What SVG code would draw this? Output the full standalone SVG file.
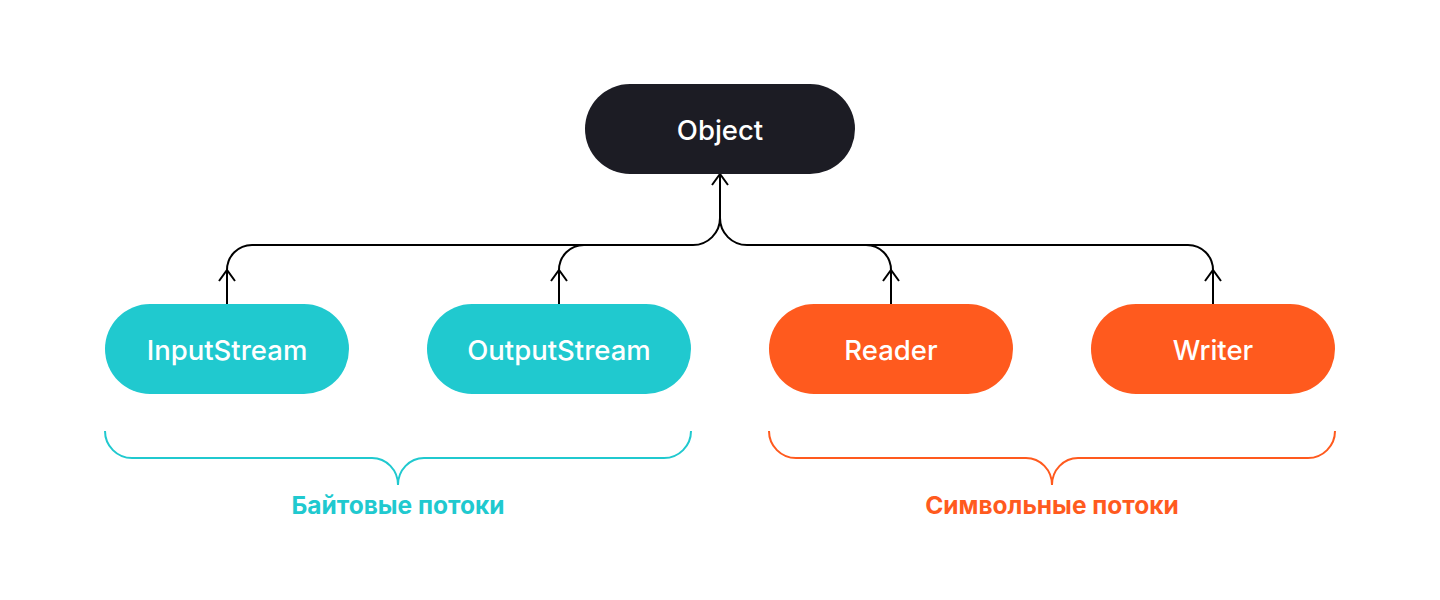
<svg xmlns="http://www.w3.org/2000/svg" width="1440" height="600" viewBox="0 0 1440 600">
<defs>
<style>
.node-text{font-family:Inter,"Liberation Sans",sans-serif;font-size:27.5px;font-weight:500;fill:#ffffff;text-anchor:middle;dominant-baseline:central}
.conn{fill:none;stroke:#000000;stroke-width:2}
.brace{fill:none;stroke-width:2}
.label{font-family:Inter,"Liberation Sans",sans-serif;font-size:24.5px;font-weight:700;text-anchor:middle}
</style>
<marker id="arr" viewBox="0 0 20 20" refX="18" refY="10" markerWidth="20" markerHeight="20" markerUnits="userSpaceOnUse" orient="auto">
<path d="M7,2 L18,10 L7,18" fill="none" stroke="#000" stroke-width="2"/>
</marker>
</defs>
<rect width="1440" height="600" fill="#ffffff"/>
<g id="connectors">
<path class="conn" d="M720,219 V174" marker-end="url(#arr)"/>
<path class="conn" d="M227,270 A25,25 0 0 1 252,245 H693 A27,27 0 0 0 720,218"/>
<path class="conn" d="M559,270 A25,25 0 0 1 584,245 H600"/>
<path class="conn" d="M891,270 A25,25 0 0 0 866,245 H747 A27,27 0 0 1 720,218"/>
<path class="conn" d="M1213,270 A25,25 0 0 0 1188,245 H800"/>
<path class="conn" d="M227,304 V270" marker-end="url(#arr)"/>
<path class="conn" d="M559,304 V270" marker-end="url(#arr)"/>
<path class="conn" d="M891,304 V270" marker-end="url(#arr)"/>
<path class="conn" d="M1213,304 V270" marker-end="url(#arr)"/>
</g>
<g id="object">
<rect x="585" y="84" width="270" height="90" rx="45" fill="#1c1c24"/>
<text class="node-text" x="720" y="130">Object</text>
</g>
<g id="inputstream">
<rect x="105" y="304" width="244" height="90" rx="45" fill="#20c9cf"/>
<text class="node-text" x="227" y="350">InputStream</text>
</g>
<g id="outputstream">
<rect x="427" y="304" width="264" height="90" rx="45" fill="#20c9cf"/>
<text class="node-text" x="559" y="350">OutputStream</text>
</g>
<g id="reader">
<rect x="769" y="304" width="244" height="90" rx="45" fill="#ff5a1e"/>
<text class="node-text" x="891" y="350">Reader</text>
</g>
<g id="writer">
<rect x="1091" y="304" width="244" height="90" rx="45" fill="#ff5a1e"/>
<text class="node-text" x="1213" y="350">Writer</text>
</g>
<g id="byte-group">
<path class="brace" stroke="#20c9cf" d="M105,431 A27,27 0 0 0 132,458 H372 A26,27 0 0 1 398,485 A26,27 0 0 1 424,458 H664 A27,27 0 0 0 691,431"/>
<text class="label" x="398" y="514" fill="#20c9cf">Байтовые потоки</text>
</g>
<g id="char-group">
<path class="brace" stroke="#ff5a1e" d="M769,431 A27,27 0 0 0 796,458 H1026 A26,27 0 0 1 1052,485 A26,27 0 0 1 1078,458 H1308 A27,27 0 0 0 1335,431"/>
<text class="label" x="1052" y="514" fill="#ff5a1e">Символьные потоки</text>
</g>
</svg>
